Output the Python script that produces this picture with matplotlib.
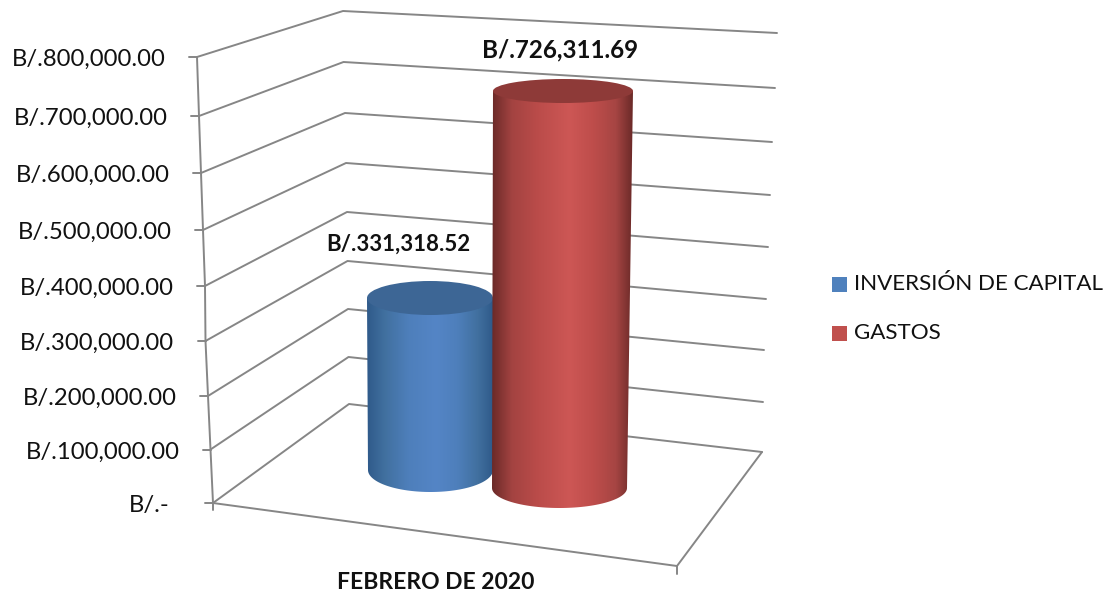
import numpy as np
import matplotlib
matplotlib.use("Agg")
import matplotlib.pyplot as plt
from matplotlib.path import Path
from matplotlib.patches import PathPatch, Ellipse, Rectangle
from matplotlib.colors import LinearSegmentedColormap

# ---- data ----
series_names = ["INVERSIÓN DE CAPITAL", "GASTOS"]
series_values = [331318.52, 726311.69]
axis_ticks = [0, 100000, 200000, 300000, 400000, 500000, 600000, 700000, 800000]
category = "FEBRERO DE 2020"

# ---- chart geometry (pixel frame of the 3-D box) ----
W, H = 1109, 591
front_x = [213, 210.5, 208, 205.5, 205, 203, 201, 199, 197]
front_y = [503, 449.5, 396, 341, 286, 230, 173, 116, 57]
back_x = [349, 348.5, 348, 347.5, 347, 346, 345, 343.5, 343]
back_y = [404, 357, 309, 261, 212, 163, 113, 62, 11]
right_x = [762, 763, 764, 766, 768, 770, 772, 775, 777]
right_y = [452, 402, 350, 299, 247, 195, 142, 88, 33]
floor_front_right = (677, 566)
grid_color = "#868686"
FONT = "Lato"

# per-series cylinder placement: base centre x/y, half width, depth scale, ellipse semi-minor
cyl_cx_base = [430.5, 559.5]
cyl_cx_top = [430, 563]
cyl_base_y = [470, 488]
cyl_half_base = [62.5, 67.5]
cyl_half_top = [63, 70]
cyl_scale = [172 / 331318.52, 397 / 726311.69]
cyl_minor_base = [22, 20]
cyl_minor_top = [17, 12]
side_stops = [
    ["#2f5a8a", "#41709f", "#4e7fbb", "#5485c6", "#4e7fbb", "#41709f", "#2f5a8a"],
    ["#6b2a28", "#a34341", "#bb4c4a", "#cd5755", "#be4d4b", "#a64543", "#6b2a28"],
]
side_pos = [0.0, 0.14, 0.33, 0.55, 0.72, 0.88, 1.0]
lid_colors = ["#3d6695", "#8e3a38"]
legend_colors = ["#4f81bd", "#c0504d"]
label_centers = [(398.5, 244.5), (560, 49.5)]
label_sizes = [16.0, 17.4]
legend_y = [284, 333]

fig = plt.figure(figsize=(W / 100, H / 100), dpi=100)
ax = fig.add_axes([0, 0, 1, 1])
ax.set_xlim(0, W)
ax.set_ylim(H, 0)
ax.axis("off")

line_kw = dict(color=grid_color, lw=1.4, solid_capstyle="round", zorder=1)

# walls and grid lines
for i, tick in enumerate(axis_ticks):
    ax.plot([front_x[i], back_x[i], right_x[i]], [front_y[i], back_y[i], right_y[i]], **line_kw)
    ax.plot([front_x[i] - 8, front_x[i]], [front_y[i]] * 2, **line_kw)
    text = "B/.-" if tick == 0 else f"B/.{tick:,.2f}"
    right = front_x[i] - 43 if tick == 0 else front_x[i] - 31
    ax.text(right, front_y[i] + 2.5, text, ha="right", va="center", fontsize=17.2,
            family=FONT, color="#111111")

# vertical axis, floor outline and end ticks
ax.plot(front_x, front_y, **line_kw)
ax.plot([front_x[0], floor_front_right[0], right_x[0]],
        [front_y[0], floor_front_right[1], right_y[0]], **line_kw)
ax.plot([front_x[0], front_x[0]], [front_y[0], front_y[0] + 7], **line_kw)
ax.plot([floor_front_right[0]] * 2, [floor_front_right[1], floor_front_right[1] + 8], **line_kw)


def draw_cylinder(i, value, z):
    base_y = cyl_base_y[i]
    top_y = base_y - value * cyl_scale[i]
    cb, ct = cyl_cx_base[i], cyl_cx_top[i]
    wb, wt = cyl_half_base[i], cyl_half_top[i]
    mb, mt = cyl_minor_base[i], cyl_minor_top[i]
    t = np.linspace(0, np.pi, 80)
    bx = cb + wb * np.cos(t)
    by = base_y + mb * np.sin(t)
    verts = [(ct + wt, top_y)] + list(zip(bx, by)) + [(ct - wt, top_y), (ct + wt, top_y)]
    codes = [Path.MOVETO] + [Path.LINETO] * (len(verts) - 2) + [Path.CLOSEPOLY]
    clip = PathPatch(Path(verts, codes), transform=ax.transData, fc="none", ec="none")
    ax.add_patch(clip)
    cmap = LinearSegmentedColormap.from_list("c", list(zip(side_pos, side_stops[i])))
    grad = np.linspace(0, 1, 256).reshape(1, -1)
    left, right = min(ct - wt, cb - wb), max(ct + wt, cb + wb)
    im = ax.imshow(grad, cmap=cmap, extent=(left, right, base_y + mb, top_y),
                   aspect="auto", zorder=z, interpolation="bilinear")
    im.set_clip_path(clip)
    ax.add_patch(Ellipse((ct, top_y), 2 * wt, 2 * mt, fc=lid_colors[i], ec="none", zorder=z + 0.1))


for i, v in enumerate(series_values):
    draw_cylinder(i, v, 2 + i)
    ax.text(label_centers[i][0], label_centers[i][1], f"B/.{v:,.2f}", ha="center", va="center",
            fontsize=label_sizes[i], fontweight="bold", family=FONT, color="#111111", zorder=6)

ax.set_xlim(0, W)
ax.set_ylim(H, 0)

# category label
ax.text(436, 582.5, category, ha="center", va="center", fontsize=16.5, fontweight="bold",
        family=FONT, color="#111111")

# legend
for name, col, y in zip(series_names, legend_colors, legend_y):
    ax.add_patch(Rectangle((832, y - 7.5), 15, 15, fc=col, ec="none"))
    ax.text(854, y, name, ha="left", va="center", fontsize=16.1, family=FONT, color="#111111")

fig.savefig("out.png", dpi=100)
